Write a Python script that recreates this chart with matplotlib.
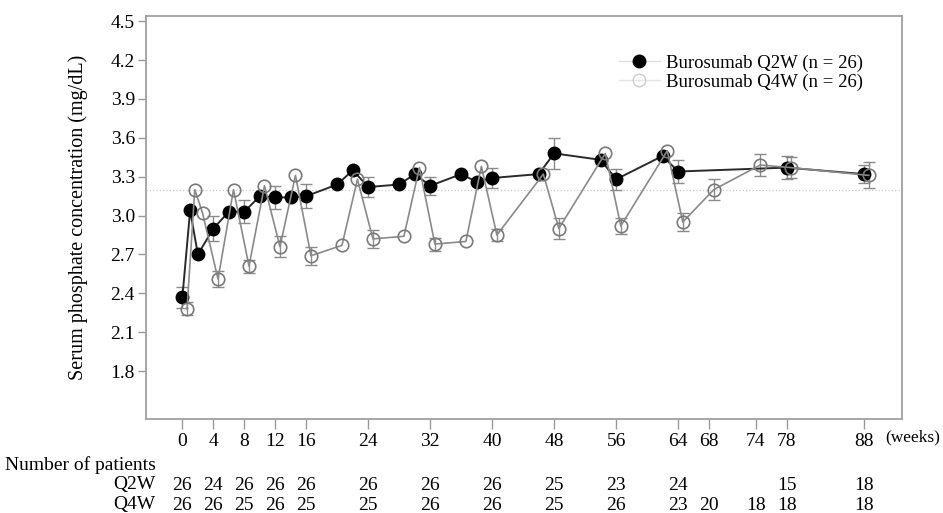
import numpy as np
import matplotlib
matplotlib.use("Agg")
import matplotlib.pyplot as plt
from matplotlib.lines import Line2D
from matplotlib.transforms import blended_transform_factory

plt.rcParams['font.family'] = ['Liberation Serif', 'DejaVu Serif']

# Mean serum phosphate (mg/dL) by visit week
weeks_q2w = [0, 1, 2, 4, 6, 8, 10, 12, 14, 16, 20, 22, 24, 28, 30, 32, 36, 38, 40,
             46, 48, 54, 56, 62, 64, 78, 88]
q2w_mean = [2.37, 3.04, 2.70, 2.90, 3.03, 3.03, 3.15, 3.14, 3.14, 3.15, 3.24, 3.35,
            3.22, 3.24, 3.32, 3.23, 3.32, 3.26, 3.29, 3.32, 3.48, 3.43, 3.28, 3.46,
            3.34, 3.37, 3.32]

weeks_q4w = [0, 1, 2, 4, 6, 8, 10, 12, 14, 16, 20, 22, 24, 28, 30, 32, 36, 38, 40,
             46, 48, 54, 56, 62, 64, 68, 74, 78, 88]
q4w_mean = [2.28, 3.20, 3.02, 2.51, 3.20, 2.61, 3.23, 2.76, 3.31, 2.69, 2.77, 3.28,
            2.82, 2.84, 3.37, 2.78, 2.80, 3.38, 2.85, 3.32, 2.90, 3.48, 2.92, 3.50,
            2.95, 3.20, 3.39, 3.37, 3.31]

# Standard errors shown only at the main visits
se_weeks_q2w = [0, 4, 8, 12, 16, 24, 32, 40, 48, 56, 64, 78, 88]
q2w_se = [0.08, 0.10, 0.09, 0.09, 0.09, 0.08, 0.07, 0.08, 0.12, 0.08, 0.09, 0.09, 0.07]
se_weeks_q4w = [0, 4, 8, 12, 16, 24, 32, 40, 48, 56, 64, 68, 74, 78, 88]
q4w_se = [0.05, 0.06, 0.05, 0.08, 0.07, 0.07, 0.05, 0.05, 0.08, 0.06, 0.07, 0.08,
          0.085, 0.08, 0.10]

# Number of patients table
n_q2w = [26, 24, 26, 26, 26, 26, 26, 26, 25, 23, 24, 15, 18]
n_q4w = [26, 26, 25, 26, 25, 25, 26, 26, 25, 26, 23, 20, 18, 18, 18]

tick_weeks = [0, 4, 8, 12, 16, 24, 32, 40, 48, 56, 64, 68, 74, 78, 88]
y_ticks = [1.8, 2.1, 2.4, 2.7, 3.0, 3.3, 3.6, 3.9, 4.2, 4.5]
upper_normal = 3.2

q4w_dodge = 0.6  # open markers are shifted right a little
fs = 14

fig = plt.figure(figsize=(9.43, 5.13), dpi=100)
ax = fig.add_axes([0.1548, 0.1832, 0.8017, 0.7856])

ax.axhline(upper_normal, color='#c8c8c8', lw=0.9, ls=':', zorder=1)

x4 = np.array(weeks_q4w) + q4w_dodge
ax.plot(weeks_q2w, q2w_mean, color='#2a2a2a', lw=1.4, marker='o', ms=9,
        mfc='black', mec='black', zorder=3)
ax.plot(x4, q4w_mean, color='#8a8a8a', lw=1.2, marker='o', ms=9,
        mfc='none', mec='#7a7a7a', mew=1.2, zorder=4)

m2 = dict(zip(weeks_q2w, q2w_mean))
m4 = dict(zip(weeks_q4w, q4w_mean))
ax.errorbar(se_weeks_q2w, [m2[w] for w in se_weeks_q2w], yerr=q2w_se, fmt='none',
            ecolor='#8a8a8a', elinewidth=1.0, capsize=4, capthick=1.0, zorder=2)
ax.errorbar(np.array(se_weeks_q4w) + q4w_dodge, [m4[w] for w in se_weeks_q4w],
            yerr=q4w_se, fmt='none', ecolor='#8a8a8a', elinewidth=1.0, capsize=4,
            capthick=1.0, zorder=2)

ax.set_xlim(-4.7, 92.9)
ax.set_ylim(1.43, 4.54)
ax.set_xticks(tick_weeks)
ax.set_xticklabels([str(w) for w in tick_weeks], fontsize=fs)
ax.set_yticks(y_ticks)
ax.set_yticklabels([f'{v:.1f}' for v in y_ticks], fontsize=fs)
ax.tick_params(axis='both', colors='#999999', labelcolor='black', width=1)
ax.tick_params(axis='x', length=7, pad=3)
ax.tick_params(axis='y', length=6, pad=2)
for s in ax.spines.values():
    s.set_color('#a0a0a0')
    s.set_linewidth(1.3)

ax.set_ylabel('Serum phosphate concentration (mg/dL)', fontsize=14.5, labelpad=16)

handles = [
    Line2D([], [], color='#e0e0e0', lw=1, marker='o', ms=9, mfc='black', mec='black'),
    Line2D([], [], color='#e6e6e6', lw=1, marker='o', ms=9, mfc='none', mec='#cccccc'),
]
ax.legend(handles, ['Burosumab Q2W (n = 26)', 'Burosumab Q4W (n = 26)'],
          loc='upper left', bbox_to_anchor=(0.613, 0.928), frameon=False,
          fontsize=13.5, handlelength=2.2, handletextpad=0.3, labelspacing=0.1,
          borderpad=0)

# patient count table under the axis
fig.text(0.939, 1 - 437 / 513, '(weeks)', fontsize=12.5, ha='left', va='center')
fig.text(0.0053, 1 - 465 / 513, 'Number of patients', fontsize=fs, ha='left', va='center')
fig.text(0.1644, 1 - 485 / 513, 'Q2W', fontsize=fs, ha='right', va='center')
fig.text(0.1644, 1 - 505 / 513, 'Q4W', fontsize=fs, ha='right', va='center')

tr = blended_transform_factory(ax.transData, fig.transFigure)
for w, n in zip(se_weeks_q2w, n_q2w):
    ax.text(w, 1 - 485 / 513, str(n), transform=tr, fontsize=fs, ha='center',
            va='center', clip_on=False)
for w, n in zip(se_weeks_q4w, n_q4w):
    ax.text(w, 1 - 505 / 513, str(n), transform=tr, fontsize=fs, ha='center',
            va='center', clip_on=False)

fig.savefig('out.png', dpi=100)
